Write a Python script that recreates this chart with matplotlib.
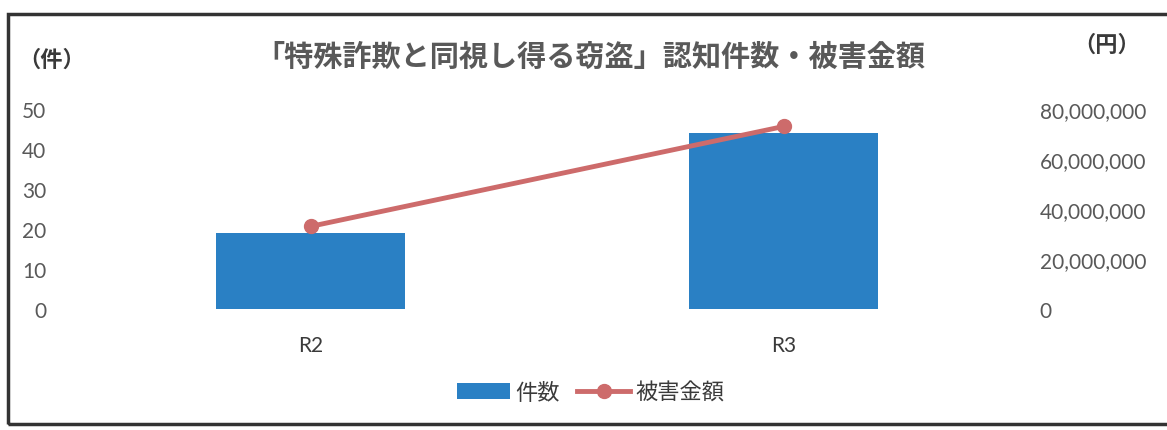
import numpy as np
import matplotlib
matplotlib.use('Agg')
import matplotlib.pyplot as plt
import matplotlib.ticker as mticker
from matplotlib.patches import Rectangle, Patch
from matplotlib.lines import Line2D

# data
years = ['R2', 'R3']
cases = [19, 44]                  # 件数 (left axis)
damage = [33000000, 73000000]     # 被害金額 (right axis, 円)

title = '「特殊詐欺と同視し得る窃盗」認知件数・被害金額'
jp = ['Noto Sans CJK JP', 'DejaVu Sans']
num = ['Lato', 'DejaVu Sans']

bar_col = '#2a80c4'
line_col = '#cd6b6b'
txt_col = '#595959'
dark = '#3a3a3a'

fig = plt.figure(figsize=(11.67, 4.31), dpi=100)
fig.patch.set_facecolor('white')

# outer frame of the scanned chart
fig.patches.append(Rectangle((8/1167, 1-425/431), 1.2, (425-15)/431,
                             transform=fig.transFigure, fill=False,
                             edgecolor='#333333', linewidth=2.5))

ax = fig.add_axes([0.0634, 0.281, 0.811, 0.464])
x = np.arange(len(years))
ax.bar(x, cases, width=0.4, color=bar_col, zorder=2)
ax.set_xlim(-0.5, len(years)-0.5)
ax.set_ylim(0, 50)
ax.set_yticks(np.arange(0, 51, 10))
ax.set_xticks(x)
ax.set_xticklabels(years, family=num, fontsize=15, color=dark)
for s in ax.spines.values():
    s.set_visible(False)
ax.tick_params(axis='y', length=0, pad=20, labelsize=15, labelcolor=txt_col)
ax.tick_params(axis='x', length=0, pad=19)
for t in ax.get_yticklabels():
    t.set_family(num)

ax2 = ax.twinx()
ax2.plot(x, damage, color=line_col, linewidth=3.5, marker='o',
         markersize=10, zorder=3)
ax2.set_ylim(0, 80000000)
ax2.set_yticks(np.arange(0, 80000001, 20000000))
ax2.yaxis.set_major_formatter(mticker.FuncFormatter(lambda v, p: '{:,.0f}'.format(v)))
for s in ax2.spines.values():
    s.set_visible(False)
ax2.tick_params(axis='y', length=0, pad=14, labelsize=15, labelcolor=txt_col)
for t in ax2.get_yticklabels():
    t.set_family(num)

fig.text(0.506, 0.868, title, ha='center', va='center', fontsize=21,
         fontweight='bold', color=txt_col, family=jp)
fig.text(0.044, 0.861, '（件）', ha='center', va='center', fontsize=16,
         fontweight='bold', color=dark, family=jp)
fig.text(0.948, 0.896, '（円）', ha='center', va='center', fontsize=16,
         fontweight='bold', color=dark, family=jp)

handles = [Patch(facecolor=bar_col, edgecolor='none'),
           Line2D([0], [0], color=line_col, linewidth=3.5, marker='o', markersize=10)]
leg = fig.legend(handles, ['件数', '被害金額'], loc='center',
                 bbox_to_anchor=(0.506, 0.088), ncol=2, frameon=False,
                 prop={'family': jp, 'size': 16}, handlelength=2.4,
                 columnspacing=0.8, handletextpad=0.2)
for t in leg.get_texts():
    t.set_color(dark)

fig.savefig('out.png', dpi=100)
